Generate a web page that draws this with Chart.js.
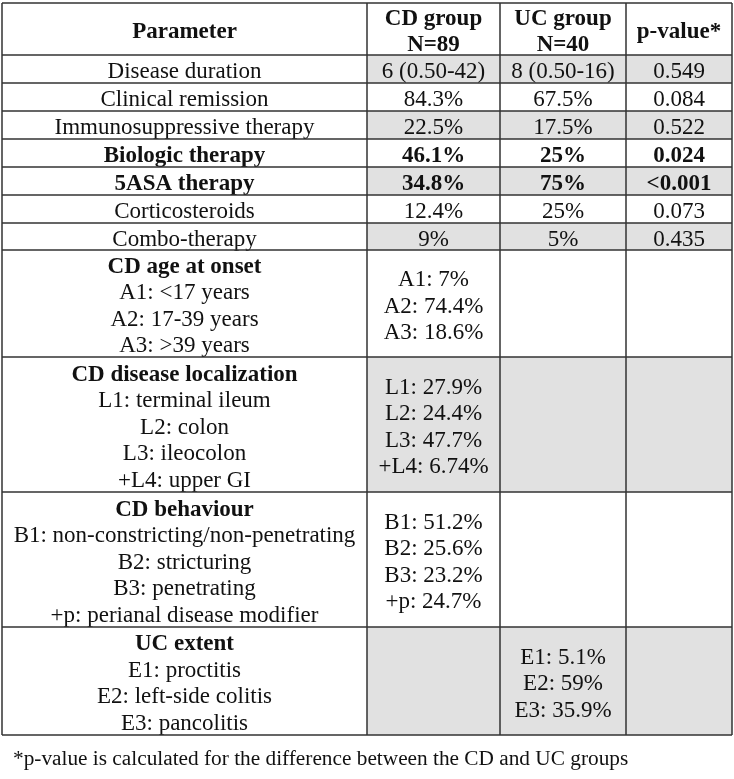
<!DOCTYPE html>
<html>
<head>
<meta charset="utf-8">
<script src="https://cdn.jsdelivr.net/npm/chart.js@4.4.1/dist/chart.umd.min.js"></script>
<style>
    html, body { margin: 0; padding: 0; background: #ffffff; }
    canvas { display: block; }
</style>
</head>
<body>
<canvas id="chartKarakteristik" width="734" height="779"></canvas>
<script>
// Patient characteristics table (CD vs UC)

const columnHeaders = [['Parameter'], ['CD group', 'N=89'], ['UC group', 'N=40'], ['p-value*']];

const parameterLabels = [
    ['Disease duration'],
    ['Clinical remission'],
    ['Immunosuppressive therapy'],
    ['Biologic therapy'],
    ['5ASA therapy'],
    ['Corticosteroids'],
    ['Combo-therapy'],
    ['CD age at onset', 'A1: <17 years', 'A2: 17-39 years', 'A3: >39 years'],
    ['CD disease localization', 'L1: terminal ileum', 'L2: colon', 'L3: ileocolon', '+L4: upper GI'],
    ['CD behaviour', 'B1: non-constricting/non-penetrating', 'B2: stricturing', 'B3: penetrating', '+p: perianal disease modifier'],
    ['UC extent', 'E1: proctitis', 'E2: left-side colitis', 'E3: pancolitis']
];

const cdGroupValues = [
    ['6 (0.50-42)'], ['84.3%'], ['22.5%'], ['46.1%'], ['34.8%'], ['12.4%'], ['9%'],
    ['A1: 7%', 'A2: 74.4%', 'A3: 18.6%'],
    ['L1: 27.9%', 'L2: 24.4%', 'L3: 47.7%', '+L4: 6.74%'],
    ['B1: 51.2%', 'B2: 25.6%', 'B3: 23.2%', '+p: 24.7%'],
    []
];

const ucGroupValues = [
    ['8 (0.50-16)'], ['67.5%'], ['17.5%'], ['25%'], ['75%'], ['25%'], ['5%'],
    [], [], [],
    ['E1: 5.1%', 'E2: 59%', 'E3: 35.9%']
];

const pValues = [
    ['0.549'], ['0.084'], ['0.522'], ['0.024'], ['<0.001'], ['0.073'], ['0.435'],
    [], [], [], []
];

const footnote = '*p-value is calculated for the difference between the CD and UC groups';

// styling / layout (kept apart from the values)
const boldRows = [3, 4];
const shadedRows = [0, 2, 4, 6, 8, 10];
const colEdges = [2, 367, 500, 626, 732];
const rowEdges = [3, 55, 83, 111, 139, 167, 195, 223, 250, 357, 492, 627, 735];
const fontFamily = '"Liberation Serif", "Times New Roman", serif';
const lineHeight = 26.5;

const tablePlugin = {
    id: 'tablePlugin',
    beforeDraw(chart) {
        const ctx = chart.ctx;
        ctx.save();
        ctx.fillStyle = '#ffffff';
        ctx.fillRect(0, 0, chart.width, chart.height);
        ctx.restore();
    },
    afterDraw(chart) {
        const ctx = chart.ctx;
        const xs = chart.scales.x;
        const ys = chart.scales.y;
        const px = v => xs.getPixelForValue(v);
        const py = v => ys.getPixelForValue(v);

        ctx.save();

        // shaded cells (data columns only)
        ctx.fillStyle = '#e1e1e1';
        shadedRows.forEach(r => {
            const top = py(rowEdges[r + 1]);
            const bottom = py(rowEdges[r + 2]);
            ctx.fillRect(px(colEdges[1]), top, px(colEdges[4]) - px(colEdges[1]), bottom - top);
        });

        function drawCell(lines, col, top, bottom, boldAll, boldFirst) {
            if (!lines.length) return;
            const cx = (px(colEdges[col]) + px(colEdges[col + 1])) / 2;
            const mid = (py(top) + py(bottom)) / 2;
            const n = lines.length;
            lines.forEach((txt, k) => {
                const bold = boldAll || (boldFirst && k === 0);
                ctx.font = (bold ? 'bold ' : '') + '23px ' + fontFamily;
                ctx.fillStyle = '#111111';
                ctx.textAlign = 'center';
                ctx.textBaseline = 'alphabetic';
                ctx.fillText(txt, cx, mid + (k - (n - 1) / 2) * lineHeight + 9);
            });
        }

        // header
        columnHeaders.forEach((lines, c) => drawCell(lines, c, rowEdges[0], rowEdges[1], true, false));

        // body
        parameterLabels.forEach((lines, r) => {
            const top = rowEdges[r + 1];
            const bottom = rowEdges[r + 2];
            const bold = boldRows.includes(r);
            drawCell(lines, 0, top, bottom, bold, lines.length > 1);
            drawCell(cdGroupValues[r], 1, top, bottom, bold, false);
            drawCell(ucGroupValues[r], 2, top, bottom, bold, false);
            drawCell(pValues[r], 3, top, bottom, bold, false);
        });

        // grid lines
        ctx.strokeStyle = '#333333';
        ctx.lineWidth = 1.5;
        ctx.beginPath();
        rowEdges.forEach(y => {
            ctx.moveTo(px(colEdges[0]), py(y));
            ctx.lineTo(px(colEdges[colEdges.length - 1]), py(y));
        });
        colEdges.forEach(x => {
            ctx.moveTo(px(x), py(rowEdges[0]));
            ctx.lineTo(px(x), py(rowEdges[rowEdges.length - 1]));
        });
        ctx.stroke();

        // footnote
        ctx.font = '21.3px ' + fontFamily;
        ctx.fillStyle = '#111111';
        ctx.textAlign = 'left';
        ctx.textBaseline = 'alphabetic';
        ctx.fillText(footnote, px(13), py(765));

        ctx.restore();
    }
};

const ctxTable = document.getElementById('chartKarakteristik');
if (ctxTable) {
    new Chart(ctxTable, {
        type: 'scatter',
        data: {
            datasets: []
        },
        options: {
            responsive: false,
            animation: false,
            layout: {
                padding: 0
            },
            plugins: {
                legend: { display: false },
                tooltip: { enabled: false }
            },
            scales: {
                x: {
                    type: 'linear',
                    min: 0,
                    max: 734,
                    display: false
                },
                y: {
                    type: 'linear',
                    min: 0,
                    max: 779,
                    reverse: true,
                    display: false
                }
            }
        },
        plugins: [tablePlugin]
    });
}
</script>
</body>
</html>
